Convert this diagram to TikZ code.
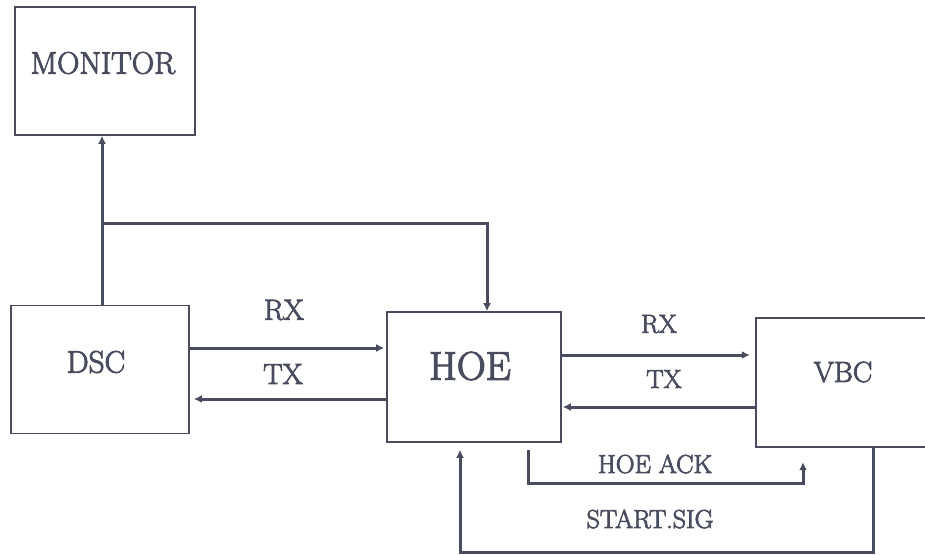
\documentclass[tikz,border=0pt]{standalone}
\usepackage{fontspec}
\newfontfamily\heavyfont{Latin Modern Roman}[FakeBold=3]
\usetikzlibrary{arrows.meta}
\definecolor{ink}{RGB}{72,76,94}
\begin{document}
\begin{tikzpicture}[x=1pt,y=-1pt,
  box/.style={draw=ink,line width=1.6pt,inner sep=0pt,minimum width=#1},
  sig/.style={draw=ink,line width=3pt,-{Latex[length=8pt,width=8pt]}},
  txt/.style={text=ink,inner sep=0pt,font=\heavyfont\fontsize{#1}{#1}\selectfont},
]
\useasboundingbox (0,0) rectangle (925,554);
% boxes
\node[box=180pt,minimum height=128pt] (monitor) at (105,71) {};
\node[box=178pt,minimum height=128pt] (dsc) at (100,369.5) {};
\node[box=174pt,minimum height=130pt] (hoe) at (474,377) {};
\node[inner sep=0pt,minimum width=169pt,minimum height=129pt] (vbc) at (840.5,382.5) {};
\draw[ink,line width=1.6pt] (vbc.north east) -- (vbc.north west) -- (vbc.south west) -- (vbc.south east);
% box texts
\node[txt=31pt] (monitorT) at (103,63) {MONITOR};
\node[txt=31pt] (dscT) at (96,362) {DSC};
\node[txt=40pt] (hoeT) at (470,366) {HOE};
\node[txt=29pt] (vbcT) at (843,372) {VBC};
% labels
\node[txt=29pt] (rxl) at (284,310) {RX};
\node[txt=29pt] (txl) at (283,374) {TX};
\node[txt=26pt] (rxr) at (659,324) {RX};
\node[txt=26pt] (txr) at (664,379) {TX};
\node[txt=26pt] (ack) at (655,464) {HOE ACK};
\node[txt=26pt] (start) at (650,519) {START.SIG};
% connectors
\coordinate (br) at (102,223);
\draw[sig] (dsc.north -| br) -- (monitor.south -| br);
\draw[sig] (br) -| ([xshift=13pt]hoe.north);
\draw[sig] (dsc.east |- 0,348) -- ([xshift=-2pt]hoe.west |- 0,348);
\draw[sig] (hoe.west |- 0,399) -- ([xshift=4pt]dsc.east |- 0,399);
\draw[sig] (hoe.east |- 0,355) -- ([xshift=-6pt]vbc.west |- 0,355);
\draw[sig] (vbc.west |- 0,407) -- ([xshift=1pt]hoe.east |- 0,407);
\coordinate (ackA) at (528,483);
\coordinate (ackB) at (803,483);
\draw[sig,shorten <=7pt,shorten >=15pt] (hoe.south -| ackA) -- (ackA) -- (ackB) -- (vbc.south -| ackB);
\coordinate (stA) at (873,552);
\coordinate (stB) at (460,552);
\draw[sig,shorten >=7pt] (vbc.south -| stA) -- (stA) -- (stB) -- (hoe.south -| stB);
\end{tikzpicture}
\end{document}
